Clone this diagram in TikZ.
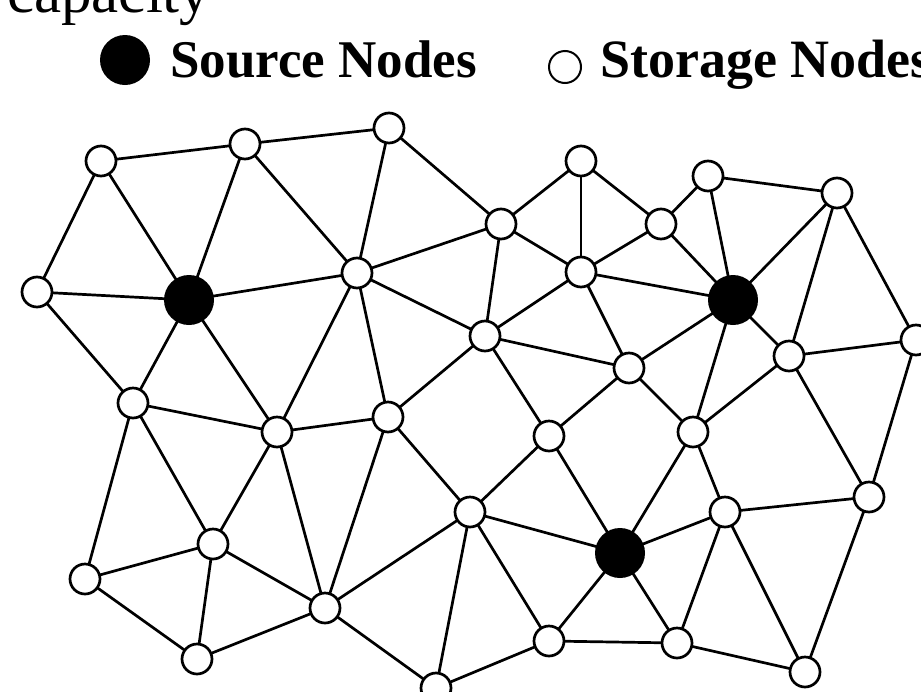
\documentclass[tikz,border=0pt]{standalone}
\usepackage{fontspec}
\setmainfont{Liberation Serif}
\begin{document}
\begin{tikzpicture}[x=1pt,y=-1pt,
  stor/.style={circle,draw=black,fill=white,line width=2.7pt,minimum size=30pt,inner sep=0pt},
  src/.style={circle,fill=black,minimum size=50pt,inner sep=0pt},
  link/.style={line width=2.7pt,line cap=round}]
\useasboundingbox (0,0) rectangle (921,691);
\clip (0,0) rectangle (921,691);
% header text
\node[anchor=base west,inner sep=0pt,font=\fontsize{61}{70}\selectfont] (cap) at (7,12) {capacity};
\node[src,minimum size=50pt] (legsrc) at (125,60) {};
\node[anchor=base west,inner sep=0pt,font=\fontsize{53}{60}\selectfont\bfseries] (legsrct) at (170,77) {Source Nodes};
\node[circle,draw=black,line width=2pt,minimum size=32pt,inner sep=0pt] (legsto) at (565,67) {};
\node[anchor=base west,inner sep=0pt,font=\fontsize{54}{60}\selectfont\bfseries] (legstot) at (600,77) {Storage Nodes};
\coordinate (a) at (101,161);
\coordinate (b) at (245,144);
\coordinate (c) at (389,128);
\coordinate (d) at (37,292);
\coordinate (S1) at (189,300);
\coordinate (e) at (357,273);
\coordinate (f) at (501,224);
\coordinate (g) at (581,161);
\coordinate (h) at (581,272);
\coordinate (i) at (661,224);
\coordinate (j) at (708,176);
\coordinate (k) at (837,193);
\coordinate (S2) at (733,300);
\coordinate (l) at (916,340);
\coordinate (m) at (485,336);
\coordinate (n) at (629,368);
\coordinate (o) at (789,356);
\coordinate (p) at (133,403);
\coordinate (q) at (277,432);
\coordinate (r) at (388,417);
\coordinate (s) at (549,436);
\coordinate (t) at (693,432);
\coordinate (u) at (869,497);
\coordinate (v) at (213,544);
\coordinate (w) at (470,512);
\coordinate (x) at (725,512);
\coordinate (S3) at (620,553);
\coordinate (y) at (85,579);
\coordinate (z) at (325,608);
\coordinate (aa) at (197,659);
\coordinate (bb) at (436,688);
\coordinate (cc) at (549,641);
\coordinate (dd) at (677,643);
\coordinate (ee) at (805,672);
% edges first (under nodes)
\foreach \u/\v in {a/b,b/c,a/d,a/S1,b/S1,b/e,c/e,c/f,d/S1,S1/e,e/f,e/m,d/p,S1/p,S1/q,e/q,e/r,
  f/g,g/h,g/i,f/h,i/h,i/j,j/k,j/S2,i/S2,h/S2,k/S2,k/o,k/l,f/m,h/m,h/n,S2/n,S2/t,S2/o,o/l,
  m/n,m/s,n/s,n/t,t/o,t/x,t/S3,s/S3,s/w,w/S3,w/cc,S3/cc,S3/dd,S3/x,x/dd,x/u,x/ee,cc/dd,dd/ee,u/ee,o/u,l/u,cc/bb,w/bb,
  r/m,p/q,q/r,p/y,p/v,q/v,y/v,y/aa,v/aa,v/z,q/z,r/z,aa/z,z/w,z/bb,r/w}
  \draw[link] (\u) -- (\v);
% nodes
\foreach \nm in {a,b,c,d,e,f,g,h,i,j,k,l,m,n,o,p,q,r,s,t,u,v,w,x,y,z,aa,bb,cc,dd,ee}
  \node[stor] (N\nm) at (\nm) {};
\foreach \nm in {S1,S2,S3}
  \node[src] (N\nm) at (\nm) {};
\end{tikzpicture}
\end{document}
